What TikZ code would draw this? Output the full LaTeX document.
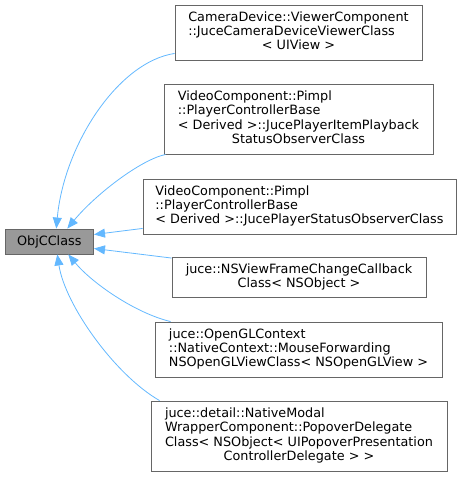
\documentclass[tikz,border=0pt]{standalone}
\usepackage{fontspec}
\setmainfont{DejaVu Sans}
\usepackage{xcolor}
\usepackage{tikz}
\usetikzlibrary{arrows.meta}
\definecolor{ClassInk}{HTML}{000000}
\definecolor{ClassBorder}{HTML}{666666}
\definecolor{ClassBase}{HTML}{999999}
\definecolor{InheritEdge}{HTML}{63B8FF}
\newcommand{\ClassLines}[2]{%
  \renewcommand{\arraystretch}{1}%
  \begin{tabular}{@{}l@{}}#1\\\multicolumn{1}{@{}c@{}}{#2}\end{tabular}%
}

\begin{document}
\begin{tikzpicture}[
  x=1pt,y=-1pt,
  font=\fontsize{12.8}{14.3}\selectfont,
  text=ClassInk,
  classbox/.style={draw=ClassBorder,fill=white,line width=0.9pt,inner sep=0pt},
  basebox/.style={classbox,fill=ClassBase},
  inherit/.style={InheritEdge,line width=0.8pt,-{Triangle[length=11pt,width=9pt]}},
]
  \useasboundingbox (0,0) rectangle (461,477);

  \node[basebox,minimum width=88.5pt,minimum height=25pt] (base) at (49.3,241.5) {ObjCClass};

  \node[classbox,minimum width=247pt,minimum height=55pt] (camera) at (298.5,32.5)
    {\ClassLines{CameraDevice::ViewerComponent\\::JuceCameraDeviceViewerClass}{< UIView >}};
  \node[classbox,minimum width=269pt,minimum height=70pt] (playback) at (298.5,119)
    {\ClassLines{VideoComponent::Pimpl\\::PlayerControllerBase\\< Derived >::JucePlayerItemPlayback}{StatusObserverClass}};
  \node[classbox,minimum width=313pt,minimum height=55pt] (status) at (299.5,206.5)
    {\ClassLines{VideoComponent::Pimpl\\::PlayerControllerBase}{< Derived >::JucePlayerStatusObserverClass}};
  \node[classbox,minimum width=254pt,minimum height=40pt] (nsview) at (299,277.5)
    {\ClassLines{juce::NSViewFrameChangeCallback}{Class< NSObject >}};
  \node[classbox,minimum width=287pt,minimum height=55pt] (opengl) at (298.5,349.5)
    {\ClassLines{juce::OpenGLContext\\::NativeContext::MouseForwarding}{NSOpenGLViewClass< NSOpenGLView >}};
  \node[classbox,minimum width=296pt,minimum height=70pt] (popover) at (299,436)
    {\ClassLines{juce::detail::NativeModal\\WrapperComponent::PopoverDelegate\\Class< NSObject< UIPopoverPresentation}{ControllerDelegate > >}};

  \draw[inherit] ([yshift=7pt]camera.south west) .. controls (118,62) and (64,145) .. ([xshift=7pt]base.north);
  \draw[inherit] ([xshift=2pt]playback.south west) .. controls (140,160) and (95,195) .. ([xshift=18pt]base.north);
  \draw[inherit] ([yshift=6pt]status.south west) -- ([yshift=7pt]base.east);
  \draw[inherit] ([yshift=-1pt]nsview.north west) -- ([yshift=-7pt]base.east);
  \draw[inherit] ([xshift=16pt]opengl.north west) .. controls (135,313) and (92,283) .. ([xshift=19pt]base.south);
  \draw[inherit] ([xshift=9pt]popover.north west) .. controls (115,375) and (65,305) .. ([xshift=8pt]base.south);
\end{tikzpicture}
\end{document}
